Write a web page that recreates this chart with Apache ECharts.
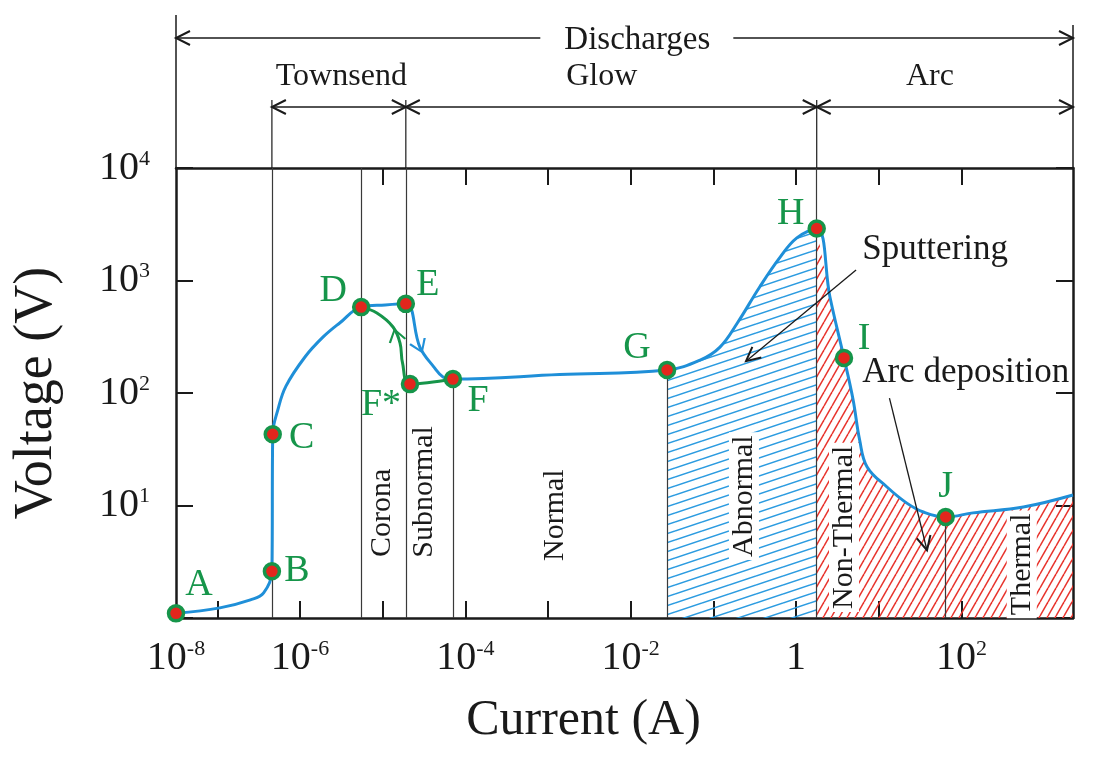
<!DOCTYPE html>
<html>
<head>
<meta charset="utf-8">
<script src="https://cdn.jsdelivr.net/npm/echarts@6/dist/echarts.min.js"></script>
<style>
  html, body { margin: 0; padding: 0; background: #fff; }
  #chart { width: 1117px; height: 759px; }
</style>
</head>
<body>
<div id="chart"></div>
<script>
var FONT = '"Liberation Serif", "Times New Roman", serif';
var BLUE = '#1f8fd8';
var GREEN = '#16954a';
var INK = '#1a1a1a';

// current is given as log10(I / A), voltage in V
var curveCurrent = [-7.5, -6.97, -6.6, -6.44, -6.34, -6.33, -6.27, -6.17, -5.94, -5.72, -5.52, -5.26,
  -4.97, -4.72, -4.55, -4.38, -4.27, -4.15, -2.86, -1.56, -1.16, -0.92, -0.71, -0.44, -0.19, 0.01,
  0.25, 0.41, 0.58, 0.69, 0.77, 0.86, 1.1, 1.34, 1.54, 1.81, 2.14, 2.75, 3.35];
var curveVoltage = [1.1, 1.23, 1.45, 1.67, 2.6, 43, 70, 115, 209, 315, 419, 580,
  606, 620, 256, 170, 139, 133, 146, 160, 196, 256, 419, 876, 1620, 2390,
  2900, 713, 205, 87, 38, 22, 14.6, 10.5, 8.75, 7.9, 8.6, 9.7, 12.4];

// D -> F* -> F branch
var greenCurrent = [-5.26, -5.07, -4.875, -4.79, -4.76, -4.67, -4.15];
var greenVoltage = [580, 514, 386, 278, 185, 120, 133];

var pointNames = ['A', 'B', 'C', 'D', 'E', 'F*', 'F', 'G', 'H', 'I', 'J'];
var pointCurrent = [-7.5, -6.34, -6.33, -5.26, -4.72, -4.67, -4.15, -1.56, 0.25, 0.58, 1.81];
var pointVoltage = [1.1, 2.6, 43, 580, 620, 120, 133, 160, 2900, 205, 7.9];

var arrowCurrent = [-4.55, -4.84];
var arrowVoltage = [256, 330];

var xLabelValues = [-7.5, -6, -4, -2, 0, 2];
var xLabelTexts = ['10^-8', '10^-6', '10^-4', '10^-2', '1', '10^2'];
var xTickValues = [-7, -6, -5, -4, -3, -2, -1, 0, 1, 2];
var xTopTickValues = [-5, -4, -3, -2, -1, 0, 1, 2];

var regionNames = ['Corona', 'Subnormal', 'Normal', 'Abnormal', 'Non-Thermal', 'Thermal'];
var regionCurrent = [-5.01, -4.5, -2.92, -0.63, 0.58, 2.73];
var regionVoltage = [8.6, 13.2, 8.2, 12.1, 6.4, 3.0];

var labelOffsets = [[23, -28], [25, 0], [29, 4], [-28, -16], [22, -19], [-29, 21],
  [25, 22], [-30, -22], [-26, -14], [20, -19], [0, -30]];

function hatch(color, w, h, steep) {
  var c = document.createElement('canvas');
  c.width = w; c.height = h;
  var g = c.getContext('2d');
  g.strokeStyle = color;
  g.lineWidth = 1.5;
  for (var k = -1; k <= 1; k++) {
    g.beginPath();
    if (steep) { g.moveTo(k * w, h); g.lineTo(k * w + w, 0); }
    else { g.moveTo(0, h + k * h); g.lineTo(w, k * h); }
    g.stroke();
  }
  return c;
}

function pairs(xs, ys, from, to) {
  var out = [];
  for (var i = 0; i < xs.length; i++) {
    if (from === undefined || (xs[i] >= from && xs[i] <= to)) out.push([xs[i], ys[i]]);
  }
  return out;
}

function powLabel(s) {
  var p = s.split('^');
  return p.length > 1 ? '{b|' + p[0] + '}{s|' + p[1] + '}' : '{b|' + p[0] + '}';
}

var rich = {
  b: { fontSize: 40, fontFamily: FONT, color: INK },
  s: { fontSize: 22, fontFamily: FONT, color: INK, verticalAlign: 'top' }
};

var gX = pointCurrent[7], hX = pointCurrent[8];
var smoothOpt = 0.4;

var chart = echarts.init(document.getElementById('chart'));

var option = {
  animation: false,
  backgroundColor: '#fff',
  grid: { left: 176, right: 44, top: 168, bottom: 141 },
  xAxis: [{
    type: 'value', min: -7.5, max: 3.35, position: 'bottom',
    name: 'Current (A)', nameLocation: 'middle', nameGap: 78,
    nameTextStyle: { fontSize: 50, fontFamily: FONT, color: INK, padding: [0, 82, 0, 0] },
    axisLine: { show: true, onZero: false, lineStyle: { color: INK, width: 2.5 } },
    axisTick: { show: true, inside: true, length: 17, customValues: xTickValues, lineStyle: { color: INK, width: 2 } },
    axisLabel: {
      margin: 20, customValues: xLabelValues, rich: rich,
      formatter: function (v) {
        var i = xLabelValues.indexOf(v);
        return i < 0 ? '' : powLabel(xLabelTexts[i]);
      }
    },
    splitLine: { show: false }
  }, {
    type: 'value', min: -7.5, max: 3.35, position: 'top',
    axisLine: { show: true, onZero: false, lineStyle: { color: INK, width: 2.5 } },
    axisTick: { show: true, inside: true, length: 17, customValues: xTopTickValues, lineStyle: { color: INK, width: 2 } },
    axisLabel: { show: false },
    splitLine: { show: false }
  }],
  yAxis: [{
    type: 'log', logBase: 10, min: 1, max: 10000, position: 'left',
    name: 'Voltage (V)', nameLocation: 'middle', nameGap: 112, nameRotate: 90,
    nameTextStyle: { fontSize: 54, fontFamily: FONT, color: INK },
    axisLine: { show: true, onZero: false, lineStyle: { color: INK, width: 2.5 } },
    axisTick: { show: true, inside: true, length: 17, lineStyle: { color: INK, width: 2 } },
    axisLabel: {
      margin: 26, rich: rich,
      formatter: function (v) {
        var e = Math.round(Math.log10(v));
        return e === 0 ? '' : powLabel('10^' + e);
      }
    },
    splitLine: { show: false }
  }, {
    type: 'log', logBase: 10, min: 1, max: 10000, position: 'right',
    axisLine: { show: true, onZero: false, lineStyle: { color: INK, width: 2.5 } },
    axisTick: { show: true, inside: true, length: 17, lineStyle: { color: INK, width: 2 } },
    axisLabel: { show: false },
    splitLine: { show: false }
  }],
  series: [
    {
      name: 'abnormal', type: 'line', z: 1, silent: true,
      data: pairs(curveCurrent, curveVoltage, gX, hX),
      smooth: smoothOpt, showSymbol: false,
      lineStyle: { width: 0 },
      areaStyle: { origin: 'start', opacity: 1, color: { image: hatch('#2a9be0', 27, 9, false), repeat: 'repeat' } }
    },
    {
      name: 'arc', type: 'line', z: 1, silent: true,
      data: pairs(curveCurrent, curveVoltage, hX, 99),
      smooth: smoothOpt, showSymbol: false,
      lineStyle: { width: 0 },
      areaStyle: { origin: 'start', opacity: 1, color: { image: hatch('#e8332c', 8, 14, true), repeat: 'repeat' } }
    },
    {
      name: 'guides', type: 'line', z: 3, data: [], silent: true,
      markLine: {
        silent: true, symbol: ['none', 'none'], animation: false,
        label: { show: false },
        lineStyle: { color: '#3a3a3a', width: 1.2, type: 'solid' },
        data: [
          { xAxis: pointCurrent[1] },
          { xAxis: pointCurrent[3] },
          { xAxis: pointCurrent[4] },
          { xAxis: pointCurrent[8] },
          [{ coord: [pointCurrent[6], pointVoltage[6]] }, { coord: [pointCurrent[6], 1] }],
          [{ coord: [pointCurrent[7], pointVoltage[7]] }, { coord: [pointCurrent[7], 1] }],
          [{ coord: [pointCurrent[10], pointVoltage[10]] }, { coord: [pointCurrent[10], 1] }]
        ]
      }
    },
    {
      name: 'curve', type: 'line', z: 5,
      data: pairs(curveCurrent, curveVoltage),
      smooth: smoothOpt, showSymbol: false,
      lineStyle: { color: BLUE, width: 3 }
    },
    {
      name: 'green', type: 'line', z: 5,
      data: pairs(greenCurrent, greenVoltage),
      smooth: smoothOpt, showSymbol: false,
      lineStyle: { color: GREEN, width: 3 }
    },
    {
      name: 'arrows', type: 'scatter', z: 6, clip: false,
      symbol: 'path://M0,14 L8,0 L16,14 L14.2,15 L8,3.8 L1.8,15 Z',
      symbolSize: [18, 14],
      itemStyle: { opacity: 1 },
      data: [
        { value: [arrowCurrent[0], arrowVoltage[0]], symbolRotate: 203, itemStyle: { color: BLUE, opacity: 1 } },
        { value: [arrowCurrent[1], arrowVoltage[1]], symbolRotate: 15, itemStyle: { color: GREEN, opacity: 1 } }
      ]
    },
    {
      name: 'points', type: 'scatter', z: 7, clip: false,
      symbolSize: 15,
      itemStyle: { color: '#e3261d', borderColor: GREEN, borderWidth: 3.5, opacity: 1 },
      label: {
        show: true, position: 'inside', formatter: '{b}',
        fontSize: 38, fontFamily: FONT, color: GREEN, textBorderWidth: 0, opacity: 1
      },
      data: pointCurrent.map(function (x, i) {
        return { name: pointNames[i], value: [x, pointVoltage[i]], label: { offset: labelOffsets[i] } };
      })
    }
  ]
};

chart.setOption(option);

// annotations above and inside the frame, anchored through the axes
var X = function (v) { return chart.convertToPixel({ xAxisIndex: 0 }, v); };
var Y = function (v) { return chart.convertToPixel({ yAxisIndex: 0 }, v); };
var yTop = Y(10000), xL = X(-7.5), xR = X(3.35);
var g = [];

function seg(x1, y1, x2, y2, w) {
  g.push({ type: 'line', z: 10, shape: { x1: x1, y1: y1, x2: x2, y2: y2 }, style: { stroke: INK, lineWidth: w || 1.5 } });
}
function head(x, y, ux, uy) {
  // open arrow head with its tip at (x, y), pointing along (ux, uy)
  var px = -uy, py = ux;
  g.push({ type: 'polyline', z: 10, shape: { points: [
    [x - 14 * ux + 7 * px, y - 14 * uy + 7 * py], [x, y], [x - 14 * ux - 7 * px, y - 14 * uy - 7 * py]
  ] }, style: { stroke: INK, lineWidth: 2, fill: null } });
}
function text(s, x, y, size, align) {
  return { type: 'text', z: 10, x: x, y: y, style: {
    text: s, fontSize: size, fontFamily: FONT, fill: INK, align: align || 'center', verticalAlign: 'middle'
  } };
}
function pointer(x1, y1, x2, y2) {
  seg(x1, y1, x2, y2, 1.3);
  var dx = x2 - x1, dy = y2 - y1, l = Math.sqrt(dx * dx + dy * dy);
  head(x2, y2, dx / l, dy / l);
}

// Discharges row
var dc = X(-1.92);
seg(xL, 38, dc - 97, 38);
seg(dc + 96, 38, xR, 38);
head(xL, 38, -1, 0);
head(xR, 38, 1, 0);
seg(xL, 15, xL, yTop);
seg(xR, 25, xR, yTop);
g.push(text('Discharges', dc, 40, 33));

// Townsend / Glow / Arc row
var bx = [X(pointCurrent[1]), X(pointCurrent[4]), X(pointCurrent[8]), xR];
for (var i = 0; i < 3; i++) {
  seg(bx[i], 107, bx[i + 1], 107);
  head(bx[i], 107, -1, 0);
  head(bx[i + 1], 107, 1, 0);
  seg(bx[i], 100, bx[i], yTop, 1.2);
}
g.push(text('Townsend', X(-5.5), 77, 32));
g.push(text('Glow', X(-2.35), 77, 32));
g.push(text('Arc', X(1.62), 77, 32));

// Sputtering / Arc deposition call-outs
g.push(text('Sputtering', X(0.8), Y(1870), 35, 'left'));
pointer(X(0.726), Y(1240), X(-0.605), Y(192));
g.push(text('Arc deposition', X(0.8), Y(151), 35, 'left'));
pointer(X(1.13), Y(90), X(1.584), Y(4.0));

// regime labels, rotated, on a white ground over the hatching
regionNames.forEach(function (s, i) {
  var el = text(s, X(regionCurrent[i]), Y(regionVoltage[i]), 30, 'center');
  el.rotation = Math.PI / 2;
  el.z = 3;
  el.style.backgroundColor = '#fff';
  el.style.padding = [0, 3];
  g.push(el);
});

chart.setOption({ graphic: g });
</script>
</body>
</html>
